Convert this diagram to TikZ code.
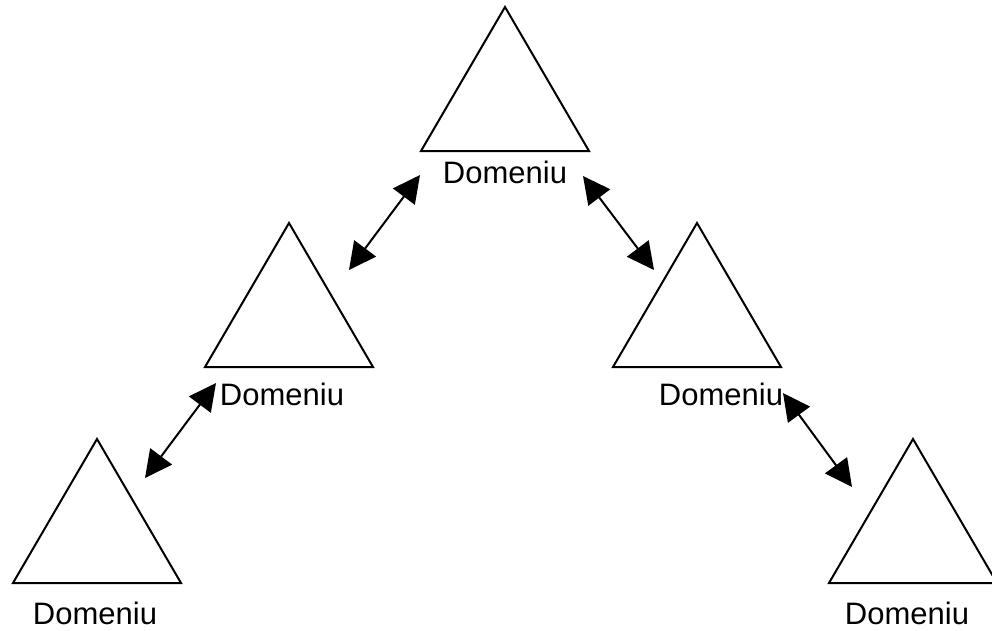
\documentclass[tikz,border=0pt]{standalone}
\usepackage{fontspec}
\setmainfont{Liberation Sans}
\usetikzlibrary{arrows.meta}
\begin{document}
\begin{tikzpicture}[x=1pt,y=-1pt,
  domtri/.style={draw=black,line width=2pt,line join=miter},
  dlabel/.style={anchor=base,inner sep=0pt,font=\fontsize{31}{37}\selectfont},
  link/.style={line width=2pt,{Triangle[length=27pt,width=27pt]}-{Triangle[length=27pt,width=27pt]}}]
\useasboundingbox (0,0) rectangle (992,630);
% domain triangles: apex, base left, base right
\draw[domtri] (505,7) -- (421,151) -- (589,151) -- cycle;
\draw[domtri] (289,223) -- (205,367) -- (373,367) -- cycle;
\draw[domtri] (697,223) -- (613,367) -- (781,367) -- cycle;
\draw[domtri] (97,439) -- (13,583) -- (181,583) -- cycle;
\draw[domtri] (913,439) -- (829,583) -- (997,583) -- cycle;
% labels
\node[dlabel] (top)   at (505,183) {Domeniu};
\node[dlabel] (left)  at (282,405) {Domeniu};
\node[dlabel] (right) at (721,405) {Domeniu};
\node[dlabel] (ll)    at (95,624)  {Domeniu};
\node[dlabel] (rr)    at (907,624) {Domeniu};
% connector ends
\coordinate (a1) at (420,175); \coordinate (a2) at (349,270);
\coordinate (b1) at (583,176); \coordinate (b2) at (654,270);
\coordinate (c1) at (216,383); \coordinate (c2) at (145,478);
\coordinate (d1) at (783,393); \coordinate (d2) at (852,487);
\draw[link] (a2) -- (a1);
\draw[link] (b1) -- (b2);
\draw[link] (c2) -- (c1);
\draw[link] (d1) -- (d2);
\end{tikzpicture}
\end{document}
